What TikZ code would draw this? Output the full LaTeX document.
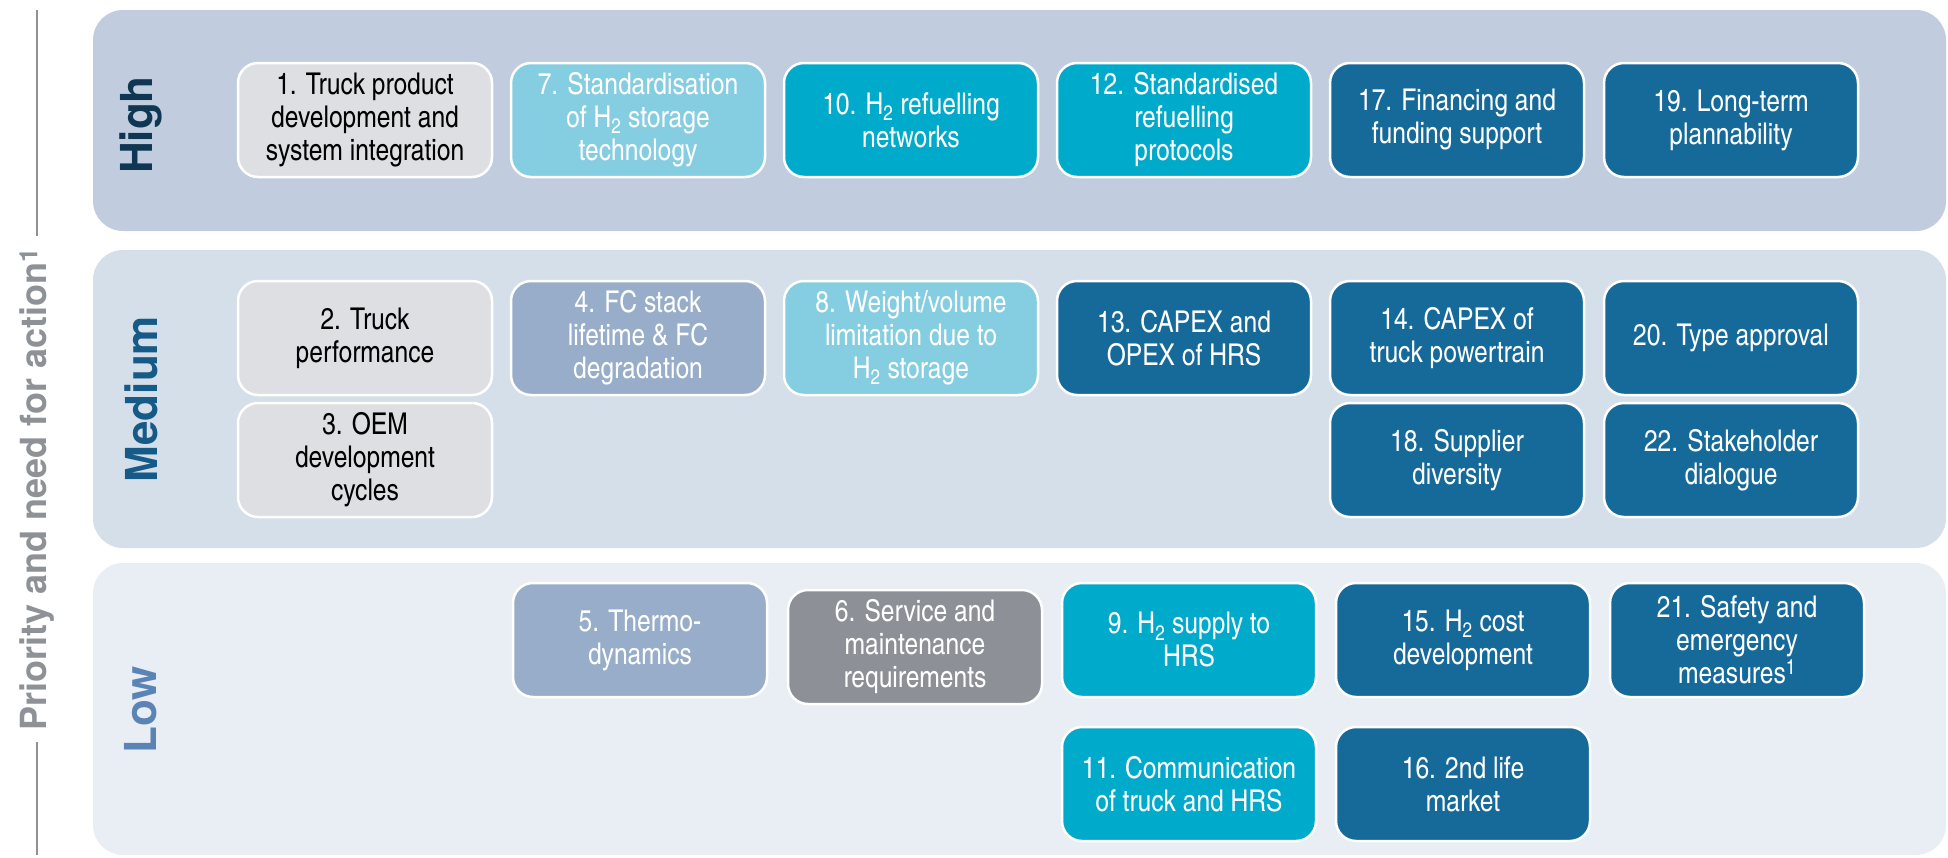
\documentclass[tikz,border=0pt]{standalone}
\usepackage{fontspec}
\setmainfont{TeX Gyre Heros}
\newfontfamily\narrowfont{texgyreheroscn}[Extension=.otf, UprightFont=*-regular, BoldFont=*-bold]
\usetikzlibrary{positioning}

\definecolor{bandhigh}{HTML}{C1CDDE}
\definecolor{bandmed}{HTML}{D5DFE9}
\definecolor{bandlow}{HTML}{E8EEF3}
\definecolor{boxgrey}{HTML}{DDDFE3}
\definecolor{boxsky}{HTML}{85CDE0}
\definecolor{boxcyan}{HTML}{00AACB}
\definecolor{boxnavy}{HTML}{166A9A}
\definecolor{boxslate}{HTML}{97ADC9}
\definecolor{boxsteel}{HTML}{8D9197}
\definecolor{axisgrey}{HTML}{8E9297}
\definecolor{lblhigh}{HTML}{0F3652}
\definecolor{lblmed}{HTML}{165A88}
\definecolor{lbllow}{HTML}{5A84B5}

\tikzset{
  topic/.style={draw=white, line width=2.5pt, rounded corners=20pt,
    minimum width=254pt, minimum height=114pt, inner sep=4pt, align=center,
    text=white, font=\narrowfont\fontsize{30}{33}\selectfont},
  greytopic/.style={topic, fill=boxgrey, text=black},
  skytopic/.style={topic, fill=boxsky},
  cyantopic/.style={topic, fill=boxcyan},
  navytopic/.style={topic, fill=boxnavy},
  slatetopic/.style={topic, fill=boxslate},
  steeltopic/.style={topic, fill=boxsteel},
  level/.style={rotate=90, font=\bfseries\fontsize{44}{44}\selectfont},
  axisline/.style={draw=axisgrey, line width=2pt}
}

\begin{document}
\begin{tikzpicture}[x=1pt, y=-1pt]
    \useasboundingbox (0,0) rectangle (1948,857);

    % Bänder der drei Prioritätsstufen
    \fill[bandhigh, rounded corners=30pt] (93,10) rectangle (1946,231);
    \fill[bandmed, rounded corners=30pt] (93,250) rectangle (1946,548);
    \fill[bandlow, rounded corners=30pt] (93,563) rectangle (1946,855);

    % Achse links
    \node[rotate=90, inner sep=12pt, text=axisgrey, font=\bfseries\fontsize{36}{36}\selectfont] (axis) at (37,489) {Priority and need for action\textsuperscript{1}};
    \coordinate (axtop) at (37,10);
    \coordinate (axbot) at (37,855);
    \draw[axisline] (axtop) -- (axis.east);
    \draw[axisline] (axis.west) -- (axbot);

    % Stufen
    \node[level, text=lblhigh] (high) at (141,125) {High};
    \node[level, text=lblmed] (medium) at (141,399) {Medium};
    \node[level, text=lbllow] (low) at (141,710) {Low};

    % Stufe High
    \node[greytopic] (t1) at (365,120) {1. Truck product\\development and\\system integration};
    \node[skytopic] (t7) at (638,120) {7. Standardisation\\of H\textsubscript{2} storage\\technology};
    \node[cyantopic] (t10) at (911,120) {10. H\textsubscript{2} refuelling\\networks};
    \node[cyantopic] (t12) at (1184,120) {12. Standardised\\refuelling\\protocols};
    \node[navytopic] (t17) at (1457,120) {17. Financing and\\funding support};
    \node[navytopic] (t19) at (1731,120) {19. Long-term\\plannability};

    % Stufe Medium
    \node[greytopic] (t2) at (365,338) {2. Truck\\performance};
    \node[slatetopic] (t4) at (638,338) {4. FC stack\\lifetime \& FC\\degradation};
    \node[skytopic] (t8) at (911,338) {8. Weight/volume\\limitation due to\\H\textsubscript{2} storage};
    \node[navytopic] (t13) at (1184,338) {13. CAPEX and\\OPEX of HRS};
    \node[navytopic] (t14) at (1457,338) {14. CAPEX of\\truck powertrain};
    \node[navytopic] (t20) at (1731,338) {20. Type approval};
    \node[greytopic] (t3) at (365,460) {3. OEM\\development\\cycles};
    \node[navytopic] (t18) at (1457,460) {18. Supplier\\diversity};
    \node[navytopic] (t22) at (1731,460) {22. Stakeholder\\dialogue};

    % Stufe Low
    \node[slatetopic] (t5) at (640,640) {5. Thermo-\\dynamics};
    \node[steeltopic] (t6) at (915,647) {6. Service and\\maintenance\\requirements};
    \node[cyantopic] (t9) at (1189,640) {9. H\textsubscript{2} supply to\\HRS};
    \node[navytopic] (t15) at (1463,640) {15. H\textsubscript{2} cost\\development};
    \node[navytopic] (t21) at (1737,640) {21. Safety and\\emergency\\measures\textsuperscript{1}};
    \node[cyantopic] (t11) at (1189,784) {11. Communication\\of truck and HRS};
    \node[navytopic] (t16) at (1463,784) {16. 2nd life\\market};
\end{tikzpicture}
\end{document}
